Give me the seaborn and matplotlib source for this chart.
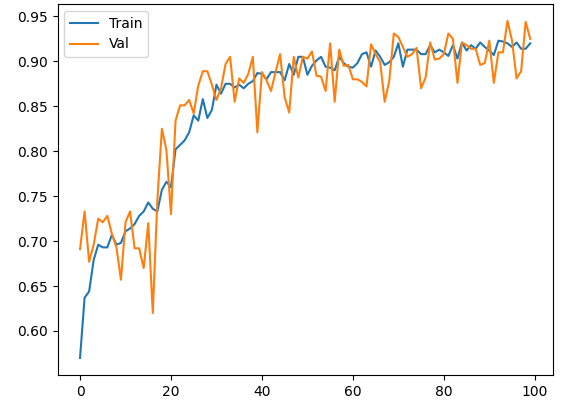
import numpy as np
import pandas as pd
import matplotlib
matplotlib.use("Agg")
import matplotlib.pyplot as plt
import seaborn as sns

train_acc = [0.570, 0.637, 0.644, 0.679, 0.696, 0.693, 0.693, 0.707, 0.696, 0.698,
             0.711, 0.714, 0.719, 0.728, 0.733, 0.743, 0.736, 0.733, 0.757, 0.766,
             0.760, 0.802, 0.807, 0.812, 0.821, 0.840, 0.834, 0.858, 0.837, 0.846,
             0.874, 0.864, 0.875, 0.875, 0.871, 0.874, 0.870, 0.875, 0.878, 0.887,
             0.886, 0.880, 0.888, 0.888, 0.888, 0.879, 0.897, 0.885, 0.905, 0.905,
             0.885, 0.895, 0.901, 0.905, 0.894, 0.893, 0.890, 0.905, 0.898, 0.894,
             0.893, 0.898, 0.908, 0.910, 0.894, 0.912, 0.905, 0.896, 0.899, 0.905,
             0.920, 0.894, 0.913, 0.913, 0.913, 0.908, 0.908, 0.918, 0.910, 0.913,
             0.910, 0.906, 0.918, 0.903, 0.921, 0.912, 0.918, 0.914, 0.921, 0.916,
             0.912, 0.907, 0.923, 0.922, 0.920, 0.916, 0.921, 0.914, 0.914, 0.920]

val_acc = [0.691, 0.733, 0.677, 0.696, 0.725, 0.721, 0.728, 0.708, 0.693, 0.657,
           0.721, 0.733, 0.692, 0.692, 0.670, 0.720, 0.620, 0.745, 0.825, 0.801,
           0.730, 0.834, 0.851, 0.851, 0.857, 0.842, 0.873, 0.889, 0.889, 0.874,
           0.857, 0.870, 0.897, 0.905, 0.855, 0.881, 0.876, 0.886, 0.905, 0.821,
           0.888, 0.879, 0.867, 0.888, 0.908, 0.860, 0.843, 0.905, 0.882, 0.905,
           0.903, 0.911, 0.884, 0.883, 0.867, 0.920, 0.855, 0.913, 0.895, 0.896,
           0.880, 0.880, 0.877, 0.872, 0.919, 0.908, 0.899, 0.855, 0.878, 0.931,
           0.927, 0.916, 0.905, 0.908, 0.915, 0.870, 0.882, 0.921, 0.902, 0.903,
           0.908, 0.931, 0.925, 0.876, 0.921, 0.918, 0.914, 0.914, 0.896, 0.898,
           0.923, 0.876, 0.910, 0.910, 0.945, 0.923, 0.881, 0.889, 0.944, 0.925]

epochs = np.arange(len(train_acc))

df = pd.DataFrame({"epoch": epochs, "Train": train_acc, "Val": val_acc})

fig, ax = plt.subplots(figsize=(5.64, 4.03), dpi=100)
sns.lineplot(data=df, x="epoch", y="Train", label="Train", ax=ax)
sns.lineplot(data=df, x="epoch", y="Val", label="Val", ax=ax)
ax.set_xlabel("")
ax.set_ylabel("")
ax.legend(loc="upper left")
fig.subplots_adjust(left=0.102, right=0.98, top=0.99, bottom=0.07)
fig.savefig("out.png", dpi=100)
